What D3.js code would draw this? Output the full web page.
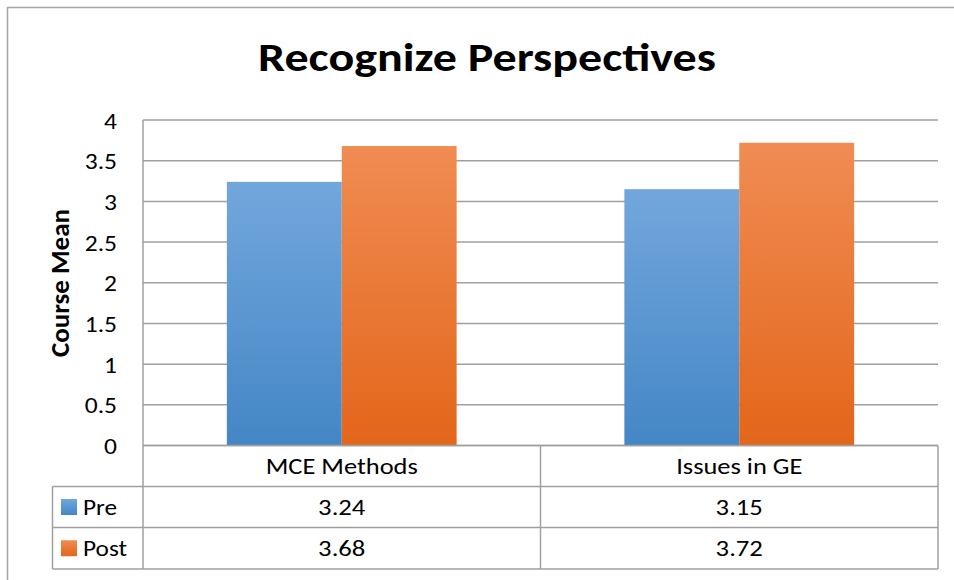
<!DOCTYPE html>
<html><head><meta charset="utf-8">
<script src="https://cdn.jsdelivr.net/npm/d3@7"></script>
<style>body{margin:0;background:#fff}svg{display:block}text{font-family:Carlito,Lato,sans-serif;fill:#000}</style>
</head><body>
<script>
const title = "Recognize Perspectives";
const yLabel = "Course Mean";
const categories = ["MCE Methods", "Issues in GE"];
const seriesNames = ["Pre", "Post"];
const preValues = [3.24, 3.15];
const postValues = [3.68, 3.72];
const yTicks = [0, 0.5, 1, 1.5, 2, 2.5, 3, 3.5, 4];
const tickLabels = ["0", "0.5", "1", "1.5", "2", "2.5", "3", "3.5", "4"];
const series = [preValues, postValues];

(function () {
const W = 954, H = 580;
const svg = d3.select("body").append("svg").attr("width", W).attr("height", H);
const defs = svg.append("defs");
const grads = [["#72a7dc", "#4486c6"], ["#f08c53", "#e3661a"]];
grads.forEach((g, i) => {
  const lg = defs.append("linearGradient").attr("id", "g" + i).attr("x1", 0).attr("y1", 0).attr("x2", 0).attr("y2", 1);
  lg.append("stop").attr("offset", "0%").attr("stop-color", g[0]);
  lg.append("stop").attr("offset", "100%").attr("stop-color", g[1]);
});

// horizontally stretched text helper
function label(parent, x, y, str, size, anchor, sx, weight) {
  return parent.append("text")
    .attr("transform", `translate(${x},${y}) scale(${sx},1)`)
    .attr("text-anchor", anchor)
    .style("font-size", size + "px")
    .style("font-weight", weight || "normal")
    .text(str);
}

svg.append("rect").attr("x", 7.5).attr("y", 7.5).attr("width", W + 20).attr("height", H + 20)
  .attr("fill", "none").attr("stroke", "#a6a6a6").attr("stroke-width", 1.5);

const pLeft = 143, pRight = 938, pTop = 120, pBottom = 445.5;
const y = d3.scaleLinear().domain([0, 4]).range([pBottom, pTop]);
const x0 = d3.scaleBand().domain(categories).range([pLeft, pRight]);
const x1 = d3.scaleBand().domain(seriesNames).range([0, x0.bandwidth()]).paddingInner(0).paddingOuter(0.73);

svg.append("g").selectAll("line").data(yTicks).join("line")
  .attr("x1", pLeft).attr("x2", pRight).attr("y1", d => y(d)).attr("y2", d => y(d))
  .attr("stroke", "#a0a0a0").attr("stroke-width", 1.5);
svg.append("line").attr("x1", pLeft).attr("x2", pLeft).attr("y1", pTop).attr("y2", pBottom)
  .attr("stroke", "#a0a0a0").attr("stroke-width", 1.5);

const ax = svg.append("g").attr("transform", `translate(${pLeft},0)`)
  .call(d3.axisLeft(y).tickValues(yTicks).tickFormat((d, i) => tickLabels[i]).tickSize(0).tickPadding(26));
ax.select(".domain").remove();
ax.selectAll("text")
  .attr("x", null).attr("dy", null)
  .attr("transform", "translate(-26,8) scale(1.16,1)")
  .style("font-family", "Carlito,Lato,sans-serif").style("font-size", "22px").attr("fill", "#000");

categories.forEach((c, ci) => {
  svg.append("g").selectAll("rect").data(seriesNames).join("rect")
    .attr("x", s => x0(c) + x1(s))
    .attr("width", x1.bandwidth())
    .attr("y", (s, si) => y(series[si][ci]))
    .attr("height", (s, si) => pBottom - y(series[si][ci]))
    .attr("fill", (s, si) => `url(#g${si})`);
});

label(svg, 487, 71, title, 40, "middle", 1.2, "bold");

svg.append("text").attr("transform", "translate(69,283) rotate(-90)").attr("text-anchor", "middle")
  .style("font-size", "27px").style("font-weight", "bold").text(yLabel);

const rowY = [445.5, 486.5, 527.5, 569];
const tableLeft = 52.5;
const tg = svg.append("g");
const stroke = "#a0a0a0";
tg.append("line").attr("x1", pLeft).attr("x2", pRight).attr("y1", rowY[0]).attr("y2", rowY[0]).attr("stroke", stroke).attr("stroke-width", 1.5);
[1, 2, 3].forEach(i => tg.append("line").attr("x1", tableLeft).attr("x2", pRight).attr("y1", rowY[i]).attr("y2", rowY[i]).attr("stroke", stroke).attr("stroke-width", 1.5));
const vx = [pLeft, x0(categories[1]), pRight];
vx.forEach(v => tg.append("line").attr("x1", v).attr("x2", v).attr("y1", rowY[0]).attr("y2", rowY[3]).attr("stroke", stroke).attr("stroke-width", 1.5));
tg.append("line").attr("x1", tableLeft).attr("x2", tableLeft).attr("y1", rowY[1]).attr("y2", rowY[3]).attr("stroke", stroke).attr("stroke-width", 1.5);

categories.forEach(c => {
  label(tg, x0(c) + x0.bandwidth() / 2, (rowY[0] + rowY[1]) / 2 + 8, c, 23, "middle", 1.15);
});
seriesNames.forEach((s, si) => {
  const cy = (rowY[si + 1] + rowY[si + 2]) / 2;
  tg.append("rect").attr("x", 61).attr("y", cy - 8).attr("width", 16).attr("height", 16).attr("fill", `url(#g${si})`);
  label(tg, 83, cy + 8, s, 23, "start", 1.1);
  categories.forEach((c, ci) => {
    label(tg, x0(c) + x0.bandwidth() / 2, cy + 8, series[si][ci].toFixed(2), 23, "middle", 1.16);
  });
});
})();
</script>
</body></html>
